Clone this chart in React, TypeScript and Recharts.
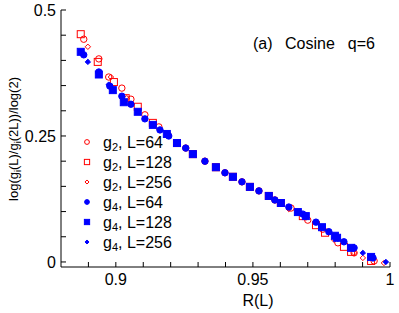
import { ScatterChart, Scatter, XAxis, YAxis, Label } from "recharts";

// R(L) vs log(g_i(L)/g_i(2L))/log(2)
const g2L64X = [0.8883, 0.8938, 0.8974, 0.9022, 0.9055, 0.9106, 0.9157, 0.919, 0.9255, 0.9325, 0.9398, 0.946, 0.9522, 0.958, 0.9639, 0.97, 0.9755, 0.981, 0.9869, 0.9942];
const g2L64Y = [0.442, 0.403, 0.367, 0.345, 0.323, 0.292, 0.268, 0.252, 0.226, 0.2, 0.177, 0.159, 0.141, 0.123, 0.107, 0.083, 0.065, 0.038, 0.018, 0.002];

const g2L128X = [0.8872, 0.8934, 0.8993, 0.9036, 0.908, 0.9135, 0.9223, 0.9281, 0.9365, 0.9427, 0.9489, 0.9558, 0.9602, 0.9682, 0.973, 0.9763, 0.9832, 0.9858, 0.9931];
const g2L128Y = [0.452, 0.397, 0.357, 0.325, 0.308, 0.276, 0.236, 0.214, 0.188, 0.169, 0.149, 0.131, 0.117, 0.091, 0.073, 0.058, 0.03, 0.02, 0.002];

const g2L256X = [0.8898, 0.8982, 0.904, 0.9193, 0.9226, 0.9631, 0.9693, 0.9796, 0.9869, 0.9901, 0.9978];
const g2L256Y = [0.427, 0.367, 0.325, 0.25, 0.234, 0.105, 0.088, 0.044, 0.018, 0.008, -0.002];

const g4L64X = [0.8883, 0.8938, 0.8978, 0.9022, 0.9055, 0.9106, 0.9161, 0.9193, 0.9255, 0.9325, 0.9398, 0.946, 0.9522, 0.958, 0.9631, 0.9682, 0.973, 0.9777, 0.9832, 0.9869, 0.9938];
const g4L64Y = [0.411, 0.377, 0.349, 0.329, 0.313, 0.284, 0.262, 0.25, 0.226, 0.2, 0.177, 0.159, 0.141, 0.123, 0.109, 0.095, 0.079, 0.06, 0.04, 0.028, 0.008];

const g4L128X = [0.8872, 0.8938, 0.8989, 0.9029, 0.908, 0.9135, 0.9186, 0.9223, 0.9281, 0.9365, 0.9427, 0.9489, 0.9558, 0.9602, 0.9664, 0.9693, 0.9752, 0.9799, 0.9807, 0.9858, 0.9931];
const g4L128Y = [0.417, 0.372, 0.341, 0.317, 0.298, 0.272, 0.254, 0.236, 0.214, 0.188, 0.169, 0.149, 0.131, 0.117, 0.099, 0.091, 0.069, 0.052, 0.048, 0.028, 0.01];

const g4L256X = [0.8898, 0.8974, 0.9029, 0.9226, 0.9664, 0.981, 0.9901, 0.9985];
const g4L256Y = [0.397, 0.352, 0.32, 0.234, 0.099, 0.046, 0.018, 0.0];

const xTicks = [0.89, 0.9, 0.91, 0.92, 0.93, 0.94, 0.95, 0.96, 0.97, 0.98, 0.99, 1.0];
const yTicks = [0, 0.05, 0.1, 0.15, 0.2, 0.25, 0.3, 0.35, 0.4, 0.45, 0.5];
const xLabeled = [0.9, 0.95, 1.0];
const yLabeled = [0, 0.25, 0.5];

const RED = "#ff0000";
const BLUE = "#0000ff";
const FONT = "'Liberation Sans', Arial, sans-serif";

const zip = (xs: number[], ys: number[]) => xs.map((x, i) => ({ x, y: ys[i] }));

type Kind = "circle" | "square" | "diamond";

function Marker({ cx, cy, kind, color, filled, s = 1 }: { cx: number; cy: number; kind: Kind; color: string; filled: boolean; s?: number }) {
  const fill = filled ? color : "none";
  if (kind === "circle") return <circle cx={cx} cy={cy} r={3.2 * s} fill={fill} stroke={color} strokeWidth={1} />;
  if (kind === "square") {
    const h = 3.5 * s;
    return <rect x={cx - h} y={cy - h} width={2 * h} height={2 * h} fill={fill} stroke={color} strokeWidth={1} />;
  }
  const d = 2.7 * s;
  return <path d={`M${cx},${cy - d}L${cx + d},${cy}L${cx},${cy + d}L${cx - d},${cy}Z`} fill={fill} stroke={color} strokeWidth={1} />;
}

const series = [
  { sub: "2", L: 64, data: zip(g2L64X, g2L64Y), kind: "circle" as Kind, color: RED, filled: false },
  { sub: "2", L: 128, data: zip(g2L128X, g2L128Y), kind: "square" as Kind, color: RED, filled: false },
  { sub: "2", L: 256, data: zip(g2L256X, g2L256Y), kind: "diamond" as Kind, color: RED, filled: false },
  { sub: "4", L: 64, data: zip(g4L64X, g4L64Y), kind: "circle" as Kind, color: BLUE, filled: true },
  { sub: "4", L: 128, data: zip(g4L128X, g4L128Y), kind: "square" as Kind, color: BLUE, filled: true },
  { sub: "4", L: 256, data: zip(g4L256X, g4L256Y), kind: "diamond" as Kind, color: BLUE, filled: true },
];

const tickStyle = { fill: "#000", fontSize: 16, fontFamily: FONT };
const axisLine = { stroke: "#000", strokeWidth: 1 };

function YLabel() {
  return (
    <text transform="translate(18,139) rotate(-90)" textAnchor="middle" fontSize={13} fontFamily={FONT} fill="#000">
      log(g<tspan fontSize={9} dy={3}>i</tspan>
      <tspan dy={-3}>(L)/g</tspan>
      <tspan fontSize={9} dy={3}>i</tspan>
      <tspan dy={-3}>(2L))/log(2)</tspan>
    </text>
  );
}

function Legend() {
  return (
    <g fontFamily={FONT} fontSize={16} fill="#000">
      {series.map((s, i) => {
        const y = 142 + i * 20;
        return (
          <g key={i}>
            <Marker cx={87} cy={y} kind={s.kind} color={s.color} filled={s.filled} s={0.75} />
            <text x={103} y={y + 6}>
              g<tspan fontSize={11} dy={3}>{s.sub}</tspan>
              <tspan dy={-3}>, L={s.L}</tspan>
            </text>
          </g>
        );
      })}
    </g>
  );
}

export default function App() {
  return (
    <div style={{ position: "absolute", left: 0, top: 0 }}>
      <ScatterChart width={399} height={313} margin={{ top: 10, right: 9, bottom: 0, left: 0 }}>
        <XAxis
          xAxisId="b"
          type="number"
          dataKey="x"
          domain={[0.88, 1.0]}
          ticks={xTicks}
          interval={0}
          allowDataOverflow
          height={46}
          tickSize={-5}
          tickMargin={12}
          axisLine={axisLine}
          tickLine={{ stroke: "#000" }}
          tick={tickStyle}
          tickFormatter={(v: number) => (xLabeled.some((t) => Math.abs(t - v) < 1e-9) ? String(v) : "")}
        >
          <Label
            content={() => (
              <text x={258} y={306} textAnchor="middle" fontSize={16} fontFamily={FONT} fill="#000">
                R(L)
              </text>
            )}
          />
        </XAxis>
        <XAxis
          xAxisId="t"
          orientation="top"
          type="number"
          dataKey="x"
          domain={[0.88, 1.0]}
          ticks={xTicks}
          interval={0}
          allowDataOverflow
          height={0}
          tickSize={-5}
          axisLine={axisLine}
          tickLine={{ stroke: "#000" }}
          tick={false}
        />
        <YAxis
          yAxisId="l"
          type="number"
          dataKey="y"
          domain={[-0.01, 0.5]}
          ticks={yTicks}
          interval={0}
          allowDataOverflow
          width={61}
          tickSize={-5}
          tickMargin={10}
          axisLine={axisLine}
          tickLine={{ stroke: "#000" }}
          tick={tickStyle}
          tickFormatter={(v: number) => (yLabeled.some((t) => Math.abs(t - v) < 1e-9) ? String(v) : "")}
        >
          <Label content={() => <YLabel />} />
        </YAxis>
        <YAxis
          yAxisId="r"
          orientation="right"
          type="number"
          dataKey="y"
          domain={[-0.01, 0.5]}
          ticks={yTicks}
          interval={0}
          allowDataOverflow
          width={0}
          tickSize={-5}
          axisLine={axisLine}
          tickLine={{ stroke: "#000" }}
          tick={false}
        />
        {series.map((s, i) => (
          <Scatter
            key={i}
            name={`g${s.sub}, L=${s.L}`}
            data={s.data}
            xAxisId="b"
            yAxisId="l"
            isAnimationActive={false}
            shape={(p: any) => <Marker cx={p.cx} cy={p.cy} kind={s.kind} color={s.color} filled={s.filled} />}
          />
        ))}
        <g fontSize={16} fontFamily={FONT} fill="#000">
          <text x={253} y={49}>(a)</text>
          <text x={285} y={49}>Cosine</text>
          <text x={375} y={49} textAnchor="end">q=6</text>
        </g>
        <Legend />
      </ScatterChart>
    </div>
  );
}
